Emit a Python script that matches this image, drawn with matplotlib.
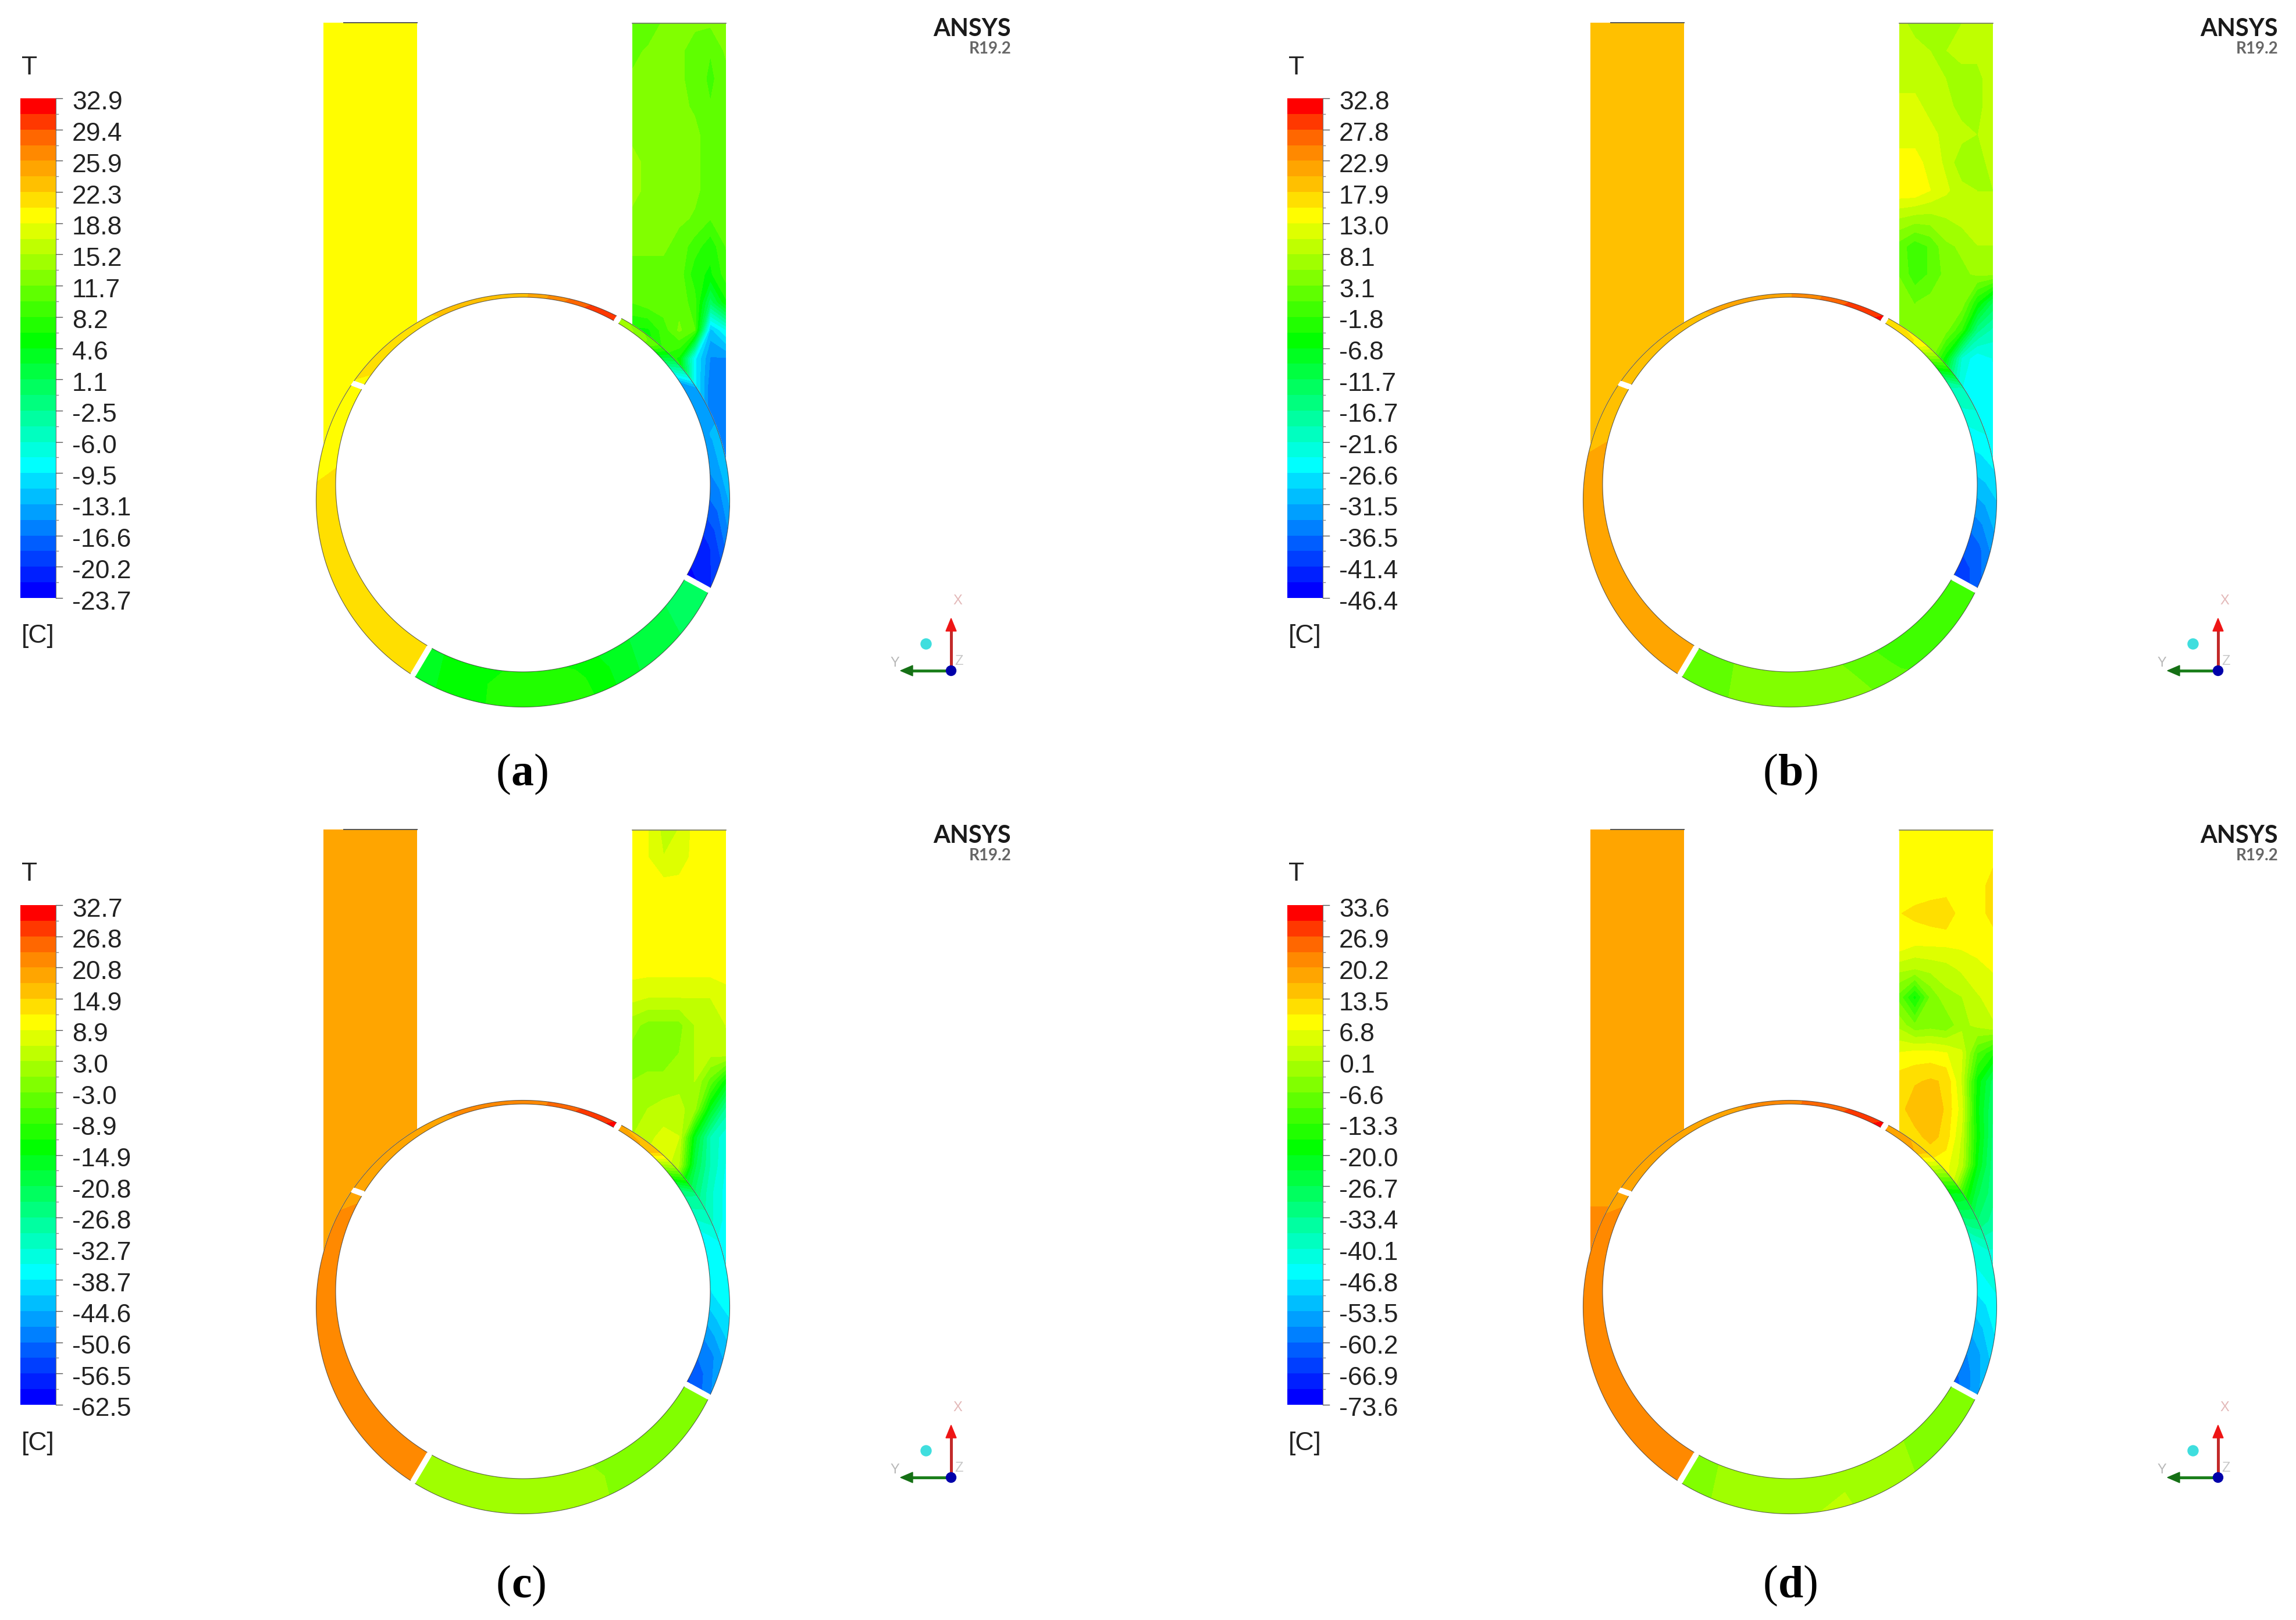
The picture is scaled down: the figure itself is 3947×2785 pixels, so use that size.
import numpy as np
import matplotlib
matplotlib.use('Agg')
import matplotlib.pyplot as plt
from matplotlib.colors import LinearSegmentedColormap, ListedColormap
from matplotlib.patches import Circle, Polygon

# colour bar labels, top to bottom
labels_a = ['32.9', '29.4', '25.9', '22.3', '18.8', '15.2', '11.7', '8.2', '4.6', '1.1', '-2.5', '-6.0', '-9.5', '-13.1', '-16.6', '-20.2', '-23.7']
labels_b = ['32.8', '27.8', '22.9', '17.9', '13.0', '8.1', '3.1', '-1.8', '-6.8', '-11.7', '-16.7', '-21.6', '-26.6', '-31.5', '-36.5', '-41.4', '-46.4']
labels_c = ['32.7', '26.8', '20.8', '14.9', '8.9', '3.0', '-3.0', '-8.9', '-14.9', '-20.8', '-26.8', '-32.7', '-38.7', '-44.6', '-50.6', '-56.5', '-62.5']
labels_d = ['33.6', '26.9', '20.2', '13.5', '6.8', '0.1', '-6.6', '-13.3', '-20.0', '-26.7', '-33.4', '-40.1', '-46.8', '-53.5', '-60.2', '-66.9', '-73.6']

# temperature: inlet duct, top to bottom
left_duct_a = [19.5] * 17
left_duct_b = [19.0] * 17
left_duct_c = [19.3] * 17
left_duct_d = [18.5] * 14 + [22.0] * 3

# outlet duct, rows top to bottom, columns left to right
right_duct_a = [
    [10, 10, 12, 12, 12, 12, 12],
    [11, 12, 12, 12, 11, 10, 12],
    [12, 12, 12, 12, 11, 9.5, 11],
    [13, 13, 12, 12, 11.5, 10, 11],
    [13, 13, 13, 12.5, 12, 11, 11],
    [14, 13, 13, 12.5, 12, 11, 11],
    [14, 13, 13, 12.5, 12, 11, 11],
    [13, 13, 12.5, 12, 11.5, 10, 11],
    [12, 12, 12, 11, 9, 7, 10],
    [11, 11, 11, 11, 7, 6, 9],
    [10, 11, 11, 11, 9, 0, 6],
    [6, 6, 9, 12, 10, -12, -8],
    [5, 4, 8, 6, -9, -15, -15],
    [7, 6, 9, 8, -9, -16, -16],
    [8, 8, 7, 4, -9, -16, -16],
    [0, -5, -8, -10, -14, -16, -15],
    [-14, -14, -14, -14, -15, -15, -15],
]
right_duct_b = [
    [9, 7, 6, 6, 8, 9, 9],
    [9, 9, 8, 8, 9, 9, 10],
    [10, 10, 10, 8, 7, 7, 10],
    [11, 11, 10, 9, 7, 7, 10],
    [12, 12, 11, 10, 9, 8, 9],
    [14, 14, 12, 10, 6, 7, 9],
    [15, 15, 13, 11, 9, 8, 8],
    [8, 7, 7, 8, 9, 9, 9],
    [2, -1, 1, 5, 6, 8, 8],
    [3, -1, 1, 4, 5, 6, 6],
    [4, 3, 4, 5, 5, -4, -12],
    [5, 4, 4, 4, -2, -16, -20],
    [5, 5, 4, -6, -22, -26, -24],
    [5, 4, 1, -14, -24, -26, -25],
    [1, -2, -8, -18, -24, -26, -26],
    [-10, -15, -20, -24, -26, -26, -26],
    [-26, -26, -26, -26, -26, -26, -26],
]
right_duct_c = [
    [10, 9, 5, 6, 10, 10, 10],
    [10, 9, 6, 7, 10, 10, 10],
    [10, 10, 10, 10, 10, 11, 11],
    [10, 10, 10, 10, 11, 11, 11],
    [10, 10, 10, 11, 11, 11, 11],
    [10, 10, 10, 10, 10, 10, 11],
    [7, 6, 6, 6, 6, 6, 7],
    [1, -1, -1, -1, 3, 3, 6],
    [-1, -2, -2, 0, 3, 4, 5],
    [0, 1, 1, 2, 3, -4, -14],
    [1, 3, 4, 4, 1, -16, -28],
    [3, 5, 7, 6, -16, -30, -35],
    [5, 7, 8, 3, -20, -30, -36],
    [5, 8, 7, -14, -24, -32, -37],
    [5, 5, -2, -16, -26, -32, -37],
    [-10, -15, -20, -25, -30, -35, -38],
    [-38, -38, -38, -38, -38, -38, -38],
]
right_duct_d = [
    [8, 8, 8, 8, 8, 8, 8],
    [8, 8, 8, 8, 8, 8, 9],
    [8, 8, 8, 8, 8, 8, 12],
    [10, 11, 12, 13, 8, 8, 12],
    [10, 8, 8, 8, 8, 8, 8],
    [1, 0, 1, 2, 4, 6, 7],
    [-8, -18, -6, -1, 0, 3, 5],
    [-1, -6, -5, -6, -1, 1, 3],
    [7, 8, 8, 7, 4, -10, -16],
    [12, 13, 14, 13, 3, -18, -28],
    [12, 16, 16, 13, 5, -19, -30],
    [11, 12, 15, 12, 3, -18, -31],
    [8, 9, 9, 8, 2, -20, -32],
    [8, 8, 9, 8, -12, -26, -32],
    [7, 8, 9, 3, -20, -30, -35],
    [-20, -25, -30, -35, -38, -40, -40],
    [-45, -45, -45, -45, -45, -45, -45],
]

# ring sectors, seven stations along the arc
# top and left sectors do not change across the gap
ring_top_a = [32, 29, 24, 23, 22, 21, 20]
ring_top_b = [32, 28, 23, 21, 20, 19.5, 19]
ring_top_c = [32, 27, 22, 21, 20.5, 20, 19.5]
ring_top_d = [33, 27, 23, 20, 19, 18.5, 18]

ring_left_a = [19.5, 19.5, 20.6, 21.5, 21.5, 21.5, 21.5]
ring_left_b = [19, 19.6, 21.6, 21.6, 21.6, 21.6, 21.6]
ring_left_c = [20, 21.5, 22, 22, 22, 22, 22]
ring_left_d = [19, 21, 22, 22, 22, 22, 22]

# bottom and right sectors: inner, middle, outer
ring_bottom_a = [[4, 4, 4], [5, 5, 5], [6, 8, 8], [5, 7, 8], [3, 3, 3], [1, 1, 1], [0.5, 0.5, 0.5]]
ring_bottom_b = [[2, 2, 3], [3, 3, 3], [5, 5, 5], [2, 4, 5], [-2, 0, 2], [-1, -1, -1], [0, 0, 0]]
ring_bottom_c = [[0, 0, 0], [1, 1, 1], [1, 1, 2], [0, 1, 1], [-1, -1, -1], [-2, -2, -2], [-2, -2, -2]]
ring_bottom_d = [[-4, -4, -4], [-3, -3, -3], [-1, 0, 0], [-2, 0, 1], [-3, -3, -3], [-4, -4, -4], [-4, -4, -4]]

ring_right_a = [[-23, -23, -21], [-21, -20, -16], [-16, -15, -10], [-14, -13, -12], [-14, -14, -14], [12, 11, 9], [18, 17, 15]]
ring_right_b = [[-42, -42, -38], [-38, -37, -33], [-30, -30, -28], [-25, -25, -25], [-18, -19, -20], [16, 15, 13], [20, 19, 17]]
ring_right_c = [[-58, -55, -48], [-50, -48, -44], [-40, -38, -37], [-38, -38, -37], [-24, -26, -28], [18, 17, 15], [21, 20, 18]]
ring_right_d = [[-68, -62, -55], [-58, -54, -48], [-47, -46, -44], [-42, -40, -40], [-16, -20, -24], [18, 16, 14], [24, 22, 20]]

captions = ['a', 'b', 'c', 'd']

# ANSYS rainbow, 32 bands
band_pos = [0, 8 / 31, 16 / 31, 24 / 31, 25 / 31, 26 / 31, 27 / 31, 28 / 31, 29 / 31, 30 / 31, 1]
band_col = ['#0000ff', '#00ffff', '#00ff00', '#ffff00', '#ffe000', '#ffc000', '#ffa500', '#ff8c00', '#ff6a00', '#ff3a00', '#ff0000']
rainbow = LinearSegmentedColormap.from_list('ansys', list(zip(band_pos, band_col)), N=256)
bands = [rainbow(i / 31) for i in range(32)]

plt.rcParams['font.family'] = ['Liberation Sans', 'DejaVu Sans']
TXT = '#222222'

fig = plt.figure(figsize=(39.48, 27.85), dpi=100)
ax = fig.add_axes([0, 0, 1, 1])
ax.set_xlim(0, 3948)
ax.set_ylim(2785, 0)
ax.axis('off')


def ring_point(th, f, ox, oy):
    # point between inner and outer circle, f=0 inner, f=1 outer
    t = np.radians(th)
    xi = 899 + 322 * np.cos(t)
    yi = 833 - 322 * np.sin(t)
    xo = 899 + 355.5 * np.cos(t)
    yo = 860 - 355.5 * np.sin(t)
    return ox + xi + (xo - xi) * f, oy + yi + (yo - yi) * f


def draw_sector(values, start, end, levels, ox, oy, margin=0.6):
    # start and end are (angle on inner circle, angle on outer circle)
    ths = np.linspace(min(start) - 3, max(end) + 3, len(values))
    fs = np.array([-margin, 0.5, 1 + margin])
    tt, ff = np.meshgrid(ths, fs, indexing='ij')
    X, Y = ring_point(tt, ff, ox, oy)
    cs = ax.contourf(X, Y, np.array(values, dtype=float), levels=levels, colors=bands, zorder=3)

    xi, yi = ring_point(np.linspace(start[0] + 0.9, end[0] - 0.9, 120), 0, ox, oy)
    xo, yo = ring_point(np.linspace(start[1] + 0.8, end[1] - 0.8, 120), 1, ox, oy)
    shape = np.vstack([np.column_stack([xi, yi]), np.column_stack([xo, yo])[::-1]])
    clip = Polygon(shape, closed=True, transform=ax.transData, fill=False, edgecolor='none')
    ax.add_patch(clip)
    cs.set_clip_path(clip)
    ax.plot(xi, yi, color='#333333', lw=0.8, alpha=0.75, zorder=4)
    ax.plot(xo, yo, color='#333333', lw=0.8, alpha=0.75, zorder=4)


def draw_colorbar(labels, ox, oy):
    ax.text(ox + 37, oy + 116, 'T', color=TXT, fontsize=32, ha='left', va='center')
    ys = np.linspace(oy + 1028, oy + 169, 33)
    ax.pcolormesh([ox + 35, ox + 96], ys, np.arange(32).reshape(-1, 1), cmap=ListedColormap(bands), vmin=0, vmax=32, zorder=2)
    ax.plot([ox + 96, ox + 96], [ys[0], ys[-1]], color='#777777', lw=0.8, zorder=2)
    for i, y in enumerate(ys):
        if i % 2 == 0:
            ax.plot([ox + 96, ox + 107], [y, y], color='#555555', lw=1.0, zorder=2)
        else:
            ax.plot([ox + 96, ox + 100], [y, y], color='#888888', lw=1.0, zorder=2)
    for lab, y in zip(labels, ys[::-1][::2]):
        ax.text(ox + 124, y + 8, lab, color=TXT, fontsize=32, ha='left', va='center')
    ax.text(ox + 37, oy + 1094, '[C]', color=TXT, fontsize=32, ha='left', va='center')


def draw_triad(ox, oy):
    x0, y0 = ox + 1635, oy + 1153
    ax.plot([x0, x0], [y0, y0 - 70], color='#c22a2a', lw=3.6, solid_capstyle='butt', zorder=5)
    ax.add_patch(Polygon([[x0, y0 - 90], [x0 - 9, y0 - 68], [x0 + 9, y0 - 68]], closed=True, color='#ee1515', zorder=5))
    ax.plot([x0, x0 - 68], [y0, y0], color='#1c7f1c', lw=3.6, solid_capstyle='butt', zorder=5)
    ax.add_patch(Polygon([[x0 - 87, y0], [x0 - 66, y0 - 9], [x0 - 66, y0 + 9]], closed=True, color='#157015', zorder=5))
    ax.add_patch(Circle((x0, y0), 8.5, color='#0000aa', zorder=6))
    ax.add_patch(Circle((ox + 1592, oy + 1107), 9, color='#3fdede', zorder=5))
    ax.text(ox + 1646, oy + 1033, 'X', color='#e3b8b8', fontsize=17, ha='center', va='center')
    ax.text(ox + 1538, oy + 1140, 'Y', color='#b8b8b8', fontsize=17, ha='center', va='center')
    ax.text(ox + 1649, oy + 1137, 'Z', color='#c8c8c8', fontsize=17, ha='center', va='center')


def draw_panel(labels, left_duct, right_duct, r_top, r_left, r_bottom, r_right, caption, ox, oy, cap_y):
    levels = np.linspace(float(labels[-1]), float(labels[0]), 33)

    # ducts
    rows = np.array(right_duct, dtype=float)
    X = ox + np.linspace(1087, 1248, rows.shape[1])
    Y = oy + np.linspace(39, 808, rows.shape[0])
    ax.contourf(X, Y, rows, levels=levels, colors=bands, zorder=1)
    left = np.array(left_duct, dtype=float)
    Y = oy + np.linspace(39, 808, len(left))
    ax.contourf(ox + np.array([556, 717]), Y, np.column_stack([left, left]), levels=levels, colors=bands, zorder=1)
    ax.plot([ox + 591, ox + 717], [oy + 39, oy + 39], color='#555555', lw=1.4, zorder=2)
    ax.plot([ox + 1087, ox + 1248], [oy + 40, oy + 40], color='#777777', lw=1.2, zorder=2)

    # ring sits over the ducts, vanes are not quite radial
    ax.add_patch(Circle((ox + 899, oy + 860), 355.5, color='white', zorder=2))
    top = np.column_stack([r_top, r_top, r_top])
    lft = np.column_stack([r_left, r_left, r_left])
    draw_sector(top, (60.2, 62.3), (148.6, 145.5), levels, ox, oy, margin=3.0)
    draw_sector(lft, (148.6, 145.5), (240.1, 237.8), levels, ox, oy)
    draw_sector(r_bottom, (240.1, 237.8), (330.3, 334.2), levels, ox, oy)
    draw_sector(r_right, (330.3, 334.2), (420.2, 422.3), levels, ox, oy)

    draw_colorbar(labels, ox, oy)
    draw_triad(ox, oy)

    ax.text(ox + 1738, oy + 62, 'ANSYS', family=['Lato', 'DejaVu Sans'], weight='bold', color='#1a1a1a', fontsize=30, ha='right', va='baseline')
    ax.text(ox + 1738, oy + 92, 'R19.2', family=['Lato', 'DejaVu Sans'], weight='bold', color='#666666', fontsize=20, ha='right', va='baseline')

    # (a) with a bold letter
    serif = ['Liberation Serif', 'DejaVu Serif']
    t1 = ax.text(ox + 899 - 46, cap_y, '(', family=serif, fontsize=56, color='black', ha='left', va='baseline')
    t2 = ax.annotate(caption, xy=(1, 0), xycoords=t1, family=serif, weight='bold', fontsize=56, color='black', ha='left', va='bottom')
    ax.annotate(')', xy=(1, 0), xycoords=t2, family=serif, fontsize=56, color='black', ha='left', va='bottom')


draw_panel(labels_a, left_duct_a, right_duct_a, ring_top_a, ring_left_a, ring_bottom_a, ring_right_a, captions[0], 0, 0, 1350)
draw_panel(labels_b, left_duct_b, right_duct_b, ring_top_b, ring_left_b, ring_bottom_b, ring_right_b, captions[1], 2178, 0, 1350)
draw_panel(labels_c, left_duct_c, right_duct_c, ring_top_c, ring_left_c, ring_bottom_c, ring_right_c, captions[2], 0, 1387, 2745)
draw_panel(labels_d, left_duct_d, right_duct_d, ring_top_d, ring_left_d, ring_bottom_d, ring_right_d, captions[3], 2178, 1387, 2745)

fig.savefig('out.png', dpi=100, facecolor='white')
